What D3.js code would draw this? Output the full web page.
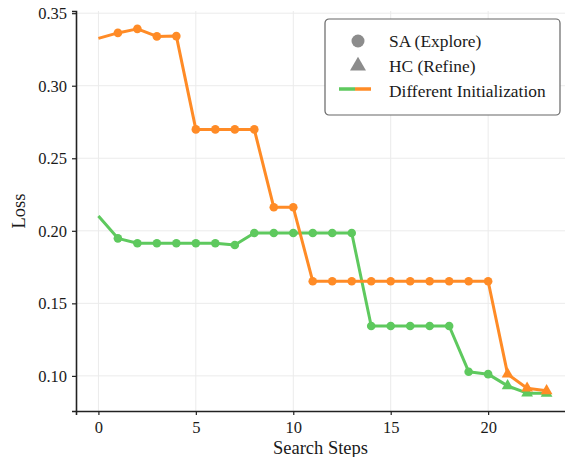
<!DOCTYPE html>
<html>
<head>
<meta charset="utf-8">
<script src="https://cdn.jsdelivr.net/npm/d3@7"></script>
<style>
  body { margin: 0; background: #fff; }
  svg { display: block; }
  svg text { font-family: "Liberation Serif", "Times New Roman", serif; }
</style>
</head>
<body>
<div id="chart"></div>
<script>
// search steps
var steps = d3.range(0, 24);

// loss per step, two runs with different initialization
var orangeLoss = [0.3326, 0.3364, 0.3392, 0.3340, 0.3342,
  0.2699, 0.2699, 0.2699, 0.2699, 0.2162, 0.2162,
  0.1652, 0.1652, 0.1652, 0.1652, 0.1652, 0.1652, 0.1652, 0.1652, 0.1652, 0.1652,
  0.1012, 0.0915, 0.0897];
var greenLoss = [0.2102, 0.1948, 0.1914, 0.1914, 0.1914, 0.1914, 0.1914, 0.1902,
  0.1985, 0.1985, 0.1985, 0.1985, 0.1985, 0.1985,
  0.1344, 0.1344, 0.1344, 0.1344, 0.1344, 0.1029, 0.1012,
  0.0931, 0.0881, 0.0880];

// phase of each step: "start", "SA" or "HC"
var orangePhase = steps.map(function(s) { return s == 0 ? "start" : (s >= 21 ? "HC" : "SA"); });
var greenPhase = steps.map(function(s) { return s == 0 ? "start" : (s >= 21 ? "HC" : "SA"); });

var xTicks = [0, 5, 10, 15, 20];
var yTicks = [0.10, 0.15, 0.20, 0.25, 0.30, 0.35];

var legendLabels = ["SA (Explore)", "HC (Refine)", "Different Initialization"];

var width = 565, height = 457;
var margin = {left: 76, top: 11, right: -4, bottom: 46};

var green = "#5ec95e", orange = "#ff8b26";
var serif = "'Liberation Serif', 'Times New Roman', serif";

var svg = d3.select("#chart").append("svg")
  .attr("width", width)
  .attr("height", height)
  .attr("font-family", serif);

var x = d3.scaleLinear()
  .domain([-1.15, 24.15])
  .range([margin.left, width - margin.right]);

var y = d3.scaleLinear()
  .domain([0.0758, 0.3515])
  .range([height - margin.bottom, margin.top]);

// grid
svg.append("g").selectAll("line")
  .data(xTicks).enter().append("line")
  .attr("x1", function(d) { return x(d); })
  .attr("x2", function(d) { return x(d); })
  .attr("y1", margin.top)
  .attr("y2", height - margin.bottom)
  .style("stroke", "#ebebeb")
  .style("stroke-width", 1);

svg.append("g").selectAll("line")
  .data(yTicks).enter().append("line")
  .attr("x1", margin.left)
  .attr("x2", width)
  .attr("y1", function(d) { return y(d); })
  .attr("y2", function(d) { return y(d); })
  .style("stroke", "#ebebeb")
  .style("stroke-width", 1);

// axes
var xAxis = svg.append("g")
  .attr("transform", "translate(0," + (height - margin.bottom) + ")")
  .call(d3.axisBottom(x).tickValues(xTicks).tickSizeOuter(0).tickSize(4).tickPadding(6));

var yAxis = svg.append("g")
  .attr("transform", "translate(" + margin.left + ",0)")
  .call(d3.axisLeft(y).tickValues(yTicks).tickFormat(d3.format(".2f")).tickSizeOuter(0).tickSize(4).tickPadding(5));

[xAxis, yAxis].forEach(function(a) {
  a.attr("font-family", serif);
  a.select(".domain").style("stroke", "#222").style("stroke-width", 1.6);
  a.selectAll(".tick line").style("stroke", "#222").style("stroke-width", 1.2);
  a.selectAll(".tick text")
    .style("font-family", serif)
    .style("font-size", "16.5px")
    .style("fill", "#1a1a1a");
});

svg.append("text")
  .attr("x", (margin.left + width) / 2)
  .attr("y", 454)
  .attr("text-anchor", "middle")
  .style("font-family", serif)
  .style("font-size", "18.5px")
  .style("fill", "#1a1a1a")
  .text("Search Steps");

svg.append("text")
  .attr("transform", "translate(25," + ((margin.top + height - margin.bottom) / 2) + ") rotate(-90)")
  .attr("text-anchor", "middle")
  .style("font-family", serif)
  .style("font-size", "18.5px")
  .style("fill", "#1a1a1a")
  .text("Loss");

// series
var line = d3.line()
  .x(function(d) { return x(d.step); })
  .y(function(d) { return y(d.loss); });

var triangle = d3.symbol().type(d3.symbolTriangle).size(60);

function drawSeries(loss, phase, color) {
  var pts = steps.map(function(s, i) { return {step: s, loss: loss[i], phase: phase[i]}; });
  var g = svg.append("g");

  g.append("path")
    .datum(pts)
    .attr("d", line)
    .style("fill", "none")
    .style("stroke", color)
    .style("stroke-width", 3)
    .style("stroke-linejoin", "round");

  g.selectAll("circle")
    .data(pts.filter(function(d) { return d.phase == "SA"; }))
    .enter().append("circle")
    .attr("cx", function(d) { return x(d.step); })
    .attr("cy", function(d) { return y(d.loss); })
    .attr("r", 4.3)
    .style("fill", color);

  g.selectAll("path.hc")
    .data(pts.filter(function(d) { return d.phase == "HC"; }))
    .enter().append("path")
    .attr("class", "hc")
    .attr("d", triangle)
    .attr("transform", function(d) { return "translate(" + x(d.step) + "," + y(d.loss) + ")"; })
    .style("fill", color);
}

drawSeries(greenLoss, greenPhase, green);
drawSeries(orangeLoss, orangePhase, orange);

// legend
var lg = svg.append("g").attr("transform", "translate(325,19)");

lg.append("rect")
  .attr("width", 235)
  .attr("height", 96)
  .attr("rx", 4)
  .style("fill", "#fff")
  .style("stroke", "#666")
  .style("stroke-width", 1.2);

lg.append("circle")
  .attr("cx", 33).attr("cy", 22).attr("r", 6.5)
  .style("fill", "#8c8c8c");

lg.append("path")
  .attr("d", d3.symbol().type(d3.symbolTriangle).size(110))
  .attr("transform", "translate(33,47)")
  .style("fill", "#8c8c8c");

lg.append("line")
  .attr("x1", 14).attr("x2", 30).attr("y1", 70).attr("y2", 70)
  .style("stroke", green).style("stroke-width", 3.5);
lg.append("line")
  .attr("x1", 30).attr("x2", 46).attr("y1", 70).attr("y2", 70)
  .style("stroke", orange).style("stroke-width", 3.5);

lg.selectAll("text")
  .data(legendLabels)
  .enter().append("text")
  .attr("x", 64)
  .attr("y", function(d, i) { return 28 + i * 25; })
  .style("font-family", serif)
  .style("font-size", "17.4px")
  .style("fill", "#1a1a1a")
  .text(function(d) { return d; });
</script>
</body>
</html>
